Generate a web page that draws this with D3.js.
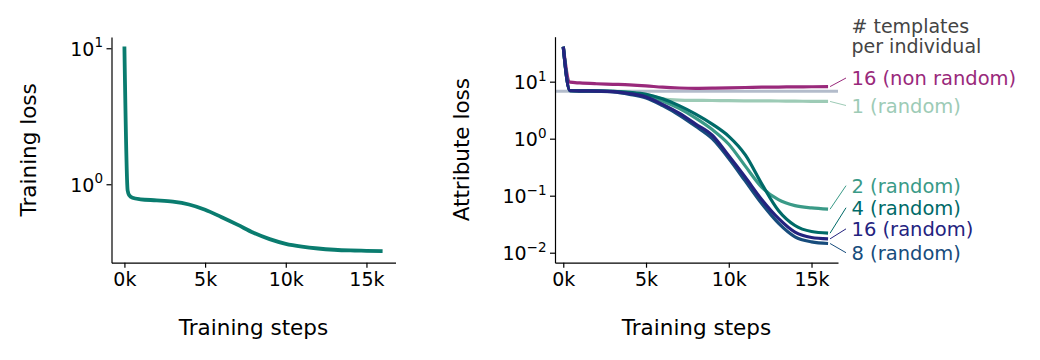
<!DOCTYPE html>
<html>
<head>
<meta charset="utf-8">
<script src="https://cdn.jsdelivr.net/npm/d3@7"></script>
<style>
  body { margin: 0; background: #fff; }
  text { font-family: "DejaVu Sans", sans-serif; }
</style>
</head>
<body>
<svg id="chart" width="1040" height="360"></svg>
<script>

// ---- data ----
var trainSteps = [0, 200, 300, 500, 1000, 2000, 3000, 4000, 5000, 6000, 7000, 8000, 9000, 10000, 11000, 12000, 13000, 14000, 15000, 16000];
var trainLoss  = [10.3, 0.9, 0.83, 0.795, 0.775, 0.762, 0.745, 0.71, 0.65, 0.575, 0.505, 0.44, 0.395, 0.365, 0.348, 0.337, 0.330, 0.326, 0.324, 0.322];

var attrSteps      = [0, 400, 1000, 2000, 3000, 4000, 5000, 6000, 7000, 8000, 9000, 10000, 11000, 12000, 13000, 14000, 15000, 16000];
var lossNonRand16  = [41, 9.8, 9.5, 9.2, 9.0, 8.8, 8.45, 8.0, 7.75, 7.65, 7.7, 7.8, 7.9, 8.0, 8.05, 8.1, 8.15, 8.2];
var lossRand1      = [41, 6.9, 6.85, 6.8, 6.75, 6.5, 6.0, 5.0, 4.75, 4.7, 4.68, 4.65, 4.62, 4.6, 4.58, 4.55, 4.52, 4.5];
var lossRand2      = [41, 7.0, 6.9, 6.85, 6.75, 6.4, 5.8, 4.6, 3.4, 2.3, 1.45, 0.8, 0.33, 0.14, 0.085, 0.067, 0.061, 0.058];
var lossRand4      = [41, 7.0, 6.9, 6.9, 6.8, 6.5, 6.0, 5.0, 3.8, 2.7, 1.8, 1.1, 0.52, 0.16, 0.055, 0.030, 0.0235, 0.022];
var lossRand8      = [41, 6.9, 6.85, 6.8, 6.6, 6.0, 5.2, 3.8, 2.6, 1.65, 1.0, 0.45, 0.18, 0.072, 0.033, 0.019, 0.0155, 0.0145];
var lossRand16     = [41, 7.0, 6.9, 6.85, 6.7, 6.2, 5.4, 4.0, 2.8, 1.8, 1.15, 0.5, 0.21, 0.085, 0.040, 0.023, 0.0185, 0.0175];
var chanceLoss = 6.8;

var seriesNames  = ["16 (non random)", "1 (random)", "2 (random)", "4 (random)", "8 (random)", "16 (random)"];
var seriesValues = [lossNonRand16, lossRand1, lossRand2, lossRand4, lossRand8, lossRand16];
var seriesColors = ["#99297b", "#9dcbb6", "#3a9a87", "#006a68", "#174c7c", "#24237f"];
// where each end label sits, in loss units
var labelAt = [11.6, 3.82, 0.150, 0.0615, 0.0100, 0.0262];

var xTicks = [0, 5000, 10000, 15000];
var leftYTicks = [1, 10];
var rightYTicks = [0.01, 0.1, 1, 10];
var legendTitle = ["# templates", "per individual"];

var svg = d3.select('#chart');

// 10^n tick label
var powLabel = function(sel, v){
    var e = Math.round(Math.log10(v));
    sel.text("10");
    sel.append("tspan")
        .attr("dy", -8.5)
        .attr("font-size", 13.5)
        .text(e < 0 ? "\u2212" + (-e) : e);
};

var drawAxes = function(x, y, yTicks, yTitle, yTitleX){
    var xAxis = d3.axisBottom(x).tickValues(xTicks).tickSize(5).tickSizeOuter(0)
        .tickFormat(function(d){ return (d / 1000) + "k"; });
    var gx = svg.append('g')
        .attr('transform', 'translate(0,' + y.range()[0] + ')')
        .call(xAxis);
    gx.selectAll('text').attr('font-size', 19).attr('fill', '#000')
        .attr('font-family', 'DejaVu Sans').attr('y', 10);

    var yAxis = d3.axisLeft(y).tickValues(yTicks).tickSize(5).tickSizeOuter(0).tickFormat("");
    var gy = svg.append('g')
        .attr('transform', 'translate(' + x.range()[0] + ',0)')
        .call(yAxis);

    svg.selectAll(null).data(yTicks).enter().append('text')
        .attr('x', x.range()[0] - 8.5)
        .attr('y', function(d){ return y(d) + 7.5; })
        .attr('text-anchor', 'end')
        .attr('font-size', 19)
        .each(function(d){ powLabel(d3.select(this), d); });

    [gx, gy].forEach(function(g){
        g.select('.domain').attr('stroke', '#000').attr('stroke-width', 1.2);
        g.selectAll('.tick line').attr('stroke', '#000').attr('stroke-width', 1.2);
    });

    svg.append('text')
        .attr('transform', 'translate(' + yTitleX + ',' + ((y.range()[0] + y.range()[1]) / 2) + ') rotate(-90)')
        .attr('text-anchor', 'middle')
        .attr('font-size', 21.5)
        .text(yTitle);

    svg.append('text')
        .attr('x', (x.range()[0] + x.range()[1]) / 2)
        .attr('y', 335)
        .attr('text-anchor', 'middle')
        .attr('font-size', 21.5)
        .text("Training steps");
};

/*
 * left panel: training loss
 */
var x1 = d3.scaleLinear().domain([-800, 16800]).range([111.5, 395.5]);
var y1 = d3.scaleLog().domain([0.265, 12.1]).range([262.7, 37]);

svg.append('path')
    .datum(trainSteps.map(function(s, i){ return [s, trainLoss[i]]; }))
    .attr('fill', 'none')
    .attr('stroke', '#0a7c6f')
    .attr('stroke-width', 3.8)
    .attr('stroke-linejoin', 'round')
    .attr('d', d3.line()
        .x(function(d){ return x1(d[0]); })
        .y(function(d){ return y1(d[1]); })
        .curve(d3.curveMonotoneX));

drawAxes(x1, y1, leftYTicks, "Training loss", 35.5);

/*
 * right panel: attribute loss
 */
var x2 = d3.scaleLinear().domain([-500, 16600]).range([555, 838]);
var y2 = d3.scaleLog().domain([0.00668, 61.5]).range([262.7, 36.7]);

svg.append('line')
    .attr('x1', x2.range()[0]).attr('x2', x2.range()[1])
    .attr('y1', y2(chanceLoss)).attr('y2', y2(chanceLoss))
    .attr('stroke', '#b3bccb')
    .attr('stroke-width', 3);

var attrLine = d3.line()
    .x(function(d){ return x2(d[0]); })
    .y(function(d){ return y2(d[1]); })
    .curve(d3.curveMonotoneX);

seriesValues.forEach(function(vals, k){
    svg.append('path')
        .datum(attrSteps.map(function(s, i){ return [s, vals[i]]; }))
        .attr('fill', 'none')
        .attr('stroke', seriesColors[k])
        .attr('stroke-width', 3.2)
        .attr('stroke-linejoin', 'round')
        .attr('d', attrLine);
});

drawAxes(x2, y2, rightYTicks, "Attribute loss", 469);

// end labels with connectors
var lastStep = attrSteps[attrSteps.length - 1];
seriesValues.forEach(function(vals, k){
    var yEnd = y2(vals[vals.length - 1]);
    var yLab = y2(labelAt[k]);
    svg.append('line')
        .attr('x1', x2(lastStep) + 2).attr('y1', yEnd)
        .attr('x2', 846).attr('y2', yLab)
        .attr('stroke', seriesColors[k])
        .attr('stroke-width', 1);
    svg.append('text')
        .attr('x', 851.5)
        .attr('y', yLab)
        .attr('dy', '0.36em')
        .attr('font-size', 19.5)
        .attr('fill', seriesColors[k])
        .text(seriesNames[k]);
});

svg.selectAll(null).data(legendTitle).enter().append('text')
    .attr('x', 851.5)
    .attr('y', function(d, i){ return 32.7 + i * 20.7; })
    .attr('font-size', 19)
    .attr('fill', '#444')
    .text(function(d){ return d; });

</script>
</body>
</html>
